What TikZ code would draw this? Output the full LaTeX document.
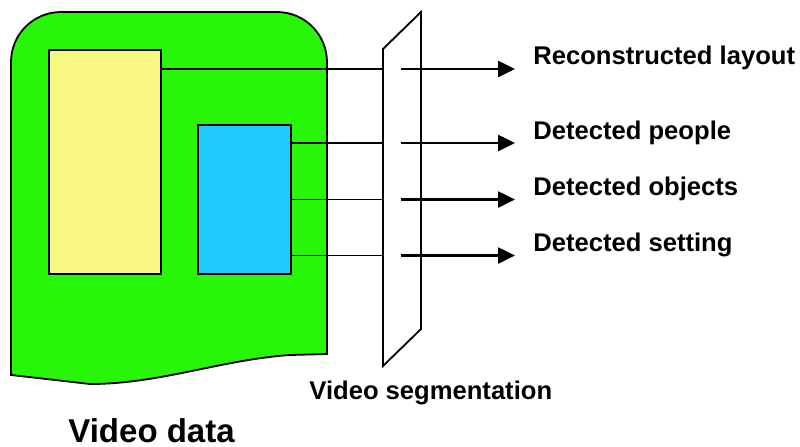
\documentclass[tikz,border=0pt]{standalone}
\usepackage{fontspec}
\setmainfont{Liberation Sans}
\usepackage{xcolor}
\usetikzlibrary{arrows.meta,positioning,calc}
\definecolor{vdgreen}{RGB}{40,246,8}
\definecolor{vdyellow}{RGB}{249,248,133}
\definecolor{vdblue}{RGB}{31,203,254}
\tikzset{
  vdframe/.style  ={draw=black, line width=0.9pt, fill=vdgreen},
  vdbox/.style    ={rectangle, draw=black, line width=0.9pt, inner sep=0pt,
                    anchor=north west},
  segplane/.style ={draw=black, line width=0.9pt},
  feed/.style     ={draw=black, line width=0.7pt},
  outflow/.style  ={-{Triangle[length=8.5pt,width=8pt]}, line width=1.3pt},
  outlabel/.style ={anchor=base west, inner sep=0pt,
                    font=\fontsize{12.8}{14}\selectfont\bfseries},
  titlelabel/.style={anchor=base west, inner sep=0pt,
                    font=\fontsize{16.5}{18}\selectfont\bfseries}
}

\begin{document}
\begin{tikzpicture}[x=0.5pt, y=-0.5pt]
  \useasboundingbox (0,0) rectangle (800,446);
  % video frame
  \draw[vdframe] (11,375) [rounded corners=25pt] -- (11,12) -- (327,12)
    [sharp corners] -- (327,354) -- (290,355)
    .. controls (220,360) and (160,384) .. (90,384) -- cycle;
  \node[vdbox, fill=vdyellow, minimum width=56pt, minimum height=112pt]
    (layout) at (48,49) {};
  \node[vdbox, fill=vdblue, minimum width=46.5pt, minimum height=74.5pt]
    (people) at (197,124) {};
  % segmentation plane
  \coordinate (segbl) at (383,366);
  \coordinate (segtl) at (383,49);
  \coordinate (segtr) at (421,12);
  \coordinate (segbr) at (421,329);
  \draw[segplane] (segbl) -- (segtl) -- (segtr) -- (segbr) -- cycle;
  \coordinate (in1) at (383,69);
  \coordinate (in2) at (383,143);
  \coordinate (in3) at (383,199.5);
  \coordinate (in4) at (383,255.5);
  \draw[feed] (in1 -| layout.east) -- (in1);
  \draw[feed] (in2 -| people.east) -- (in2);
  \draw[feed] (in3 -| people.east) -- (in3);
  \draw[feed] (in4 -| people.east) -- (in4);
  % outputs
  \node[outlabel] (lay) at (533,64.5)  {Reconstructed layout};
  \node[outlabel] (ppl) at (533,139.5) {Detected people};
  \node[outlabel] (obj) at (533,195.5) {Detected objects};
  \node[outlabel] (set) at (533,251.5) {Detected setting};
  \coordinate (out1) at (401,69);
  \coordinate (out2) at (401,143);
  \coordinate (out3) at (401,199.5);
  \coordinate (out4) at (401,255.5);
  \draw[outflow] (out1) -- ++(114,0);
  \draw[outflow] (out2) -- ++(114,0);
  \draw[outflow] (out3) -- ++(114,0);
  \draw[outflow] (out4) -- ++(114,0);
  \node[outlabel] (seg) at (309,399) {Video segmentation};
  \node[titlelabel] (vdata) at (68,442) {Video data};
\end{tikzpicture}
\end{document}
